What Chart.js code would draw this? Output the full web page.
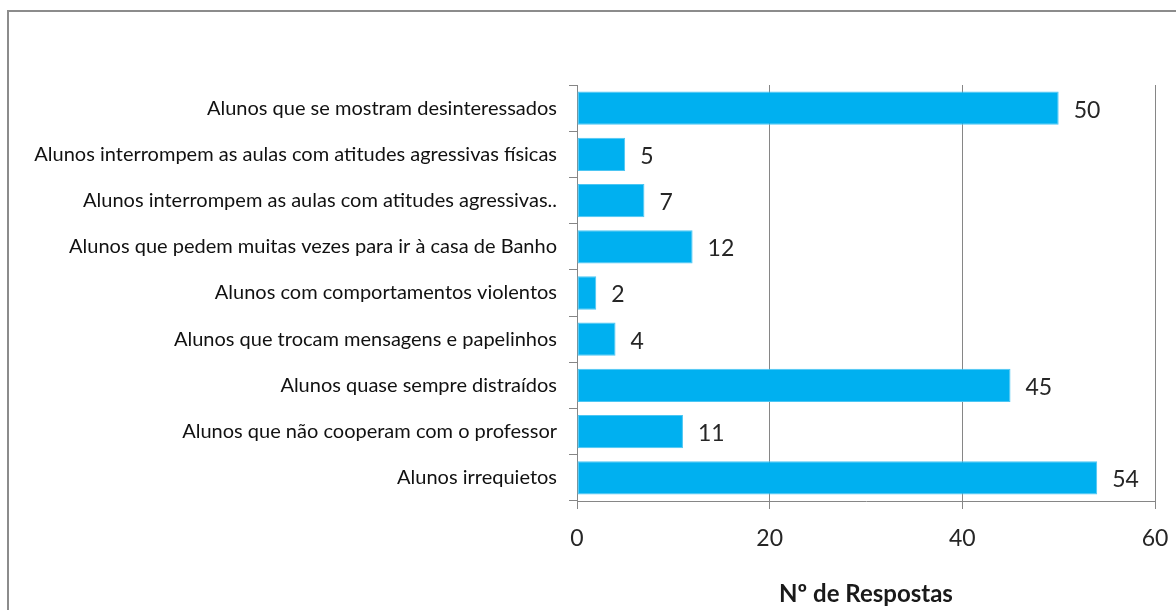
<!DOCTYPE html>
<html>
<head>
<meta charset="utf-8">
<script src="https://cdn.jsdelivr.net/npm/chart.js@4"></script>
<style>
  html, body { margin: 0; padding: 0; background: #fff; }
  #wrap { position: relative; width: 1176px; height: 610px; }
  #frame { position: absolute; left: 7px; top: 10px; right: 0; bottom: 0;
           border-left: 2px solid #8c8c8c; border-top: 2px solid #8c8c8c; pointer-events: none; }
</style>
</head>
<body>
<div id="wrap">
  <canvas id="chart" width="1176" height="610"></canvas>
  <div id="frame"></div>
</div>
<script>
// categories, top to bottom
const categories = [
  "Alunos que se mostram desinteressados",
  "Alunos interrompem as aulas com atitudes agressivas físicas",
  "Alunos interrompem as aulas com atitudes agressivas..",
  "Alunos que pedem muitas vezes para ir à casa de Banho",
  "Alunos com comportamentos violentos",
  "Alunos que trocam mensagens e papelinhos",
  "Alunos quase sempre distraídos",
  "Alunos que não cooperam com o professor",
  "Alunos irrequietos"
];
const respostas = [50, 5, 7, 12, 2, 4, 45, 11, 54];
const xTicks = [0, 20, 40, 60];
const axisTitle = "Nº de Respostas";

const FONT = "Lato";

// value labels drawn just past the end of each bar
const valueLabels = {
  id: "valueLabels",
  afterDatasetsDraw(chart) {
    const ctx = chart.ctx;
    const meta = chart.getDatasetMeta(0);
    ctx.save();
    ctx.font = `23px ${FONT}`;
    ctx.fillStyle = "#262626";
    ctx.textAlign = "left";
    ctx.textBaseline = "middle";
    meta.data.forEach((bar, i) => {
      ctx.fillText(String(respostas[i]), bar.x + 15, bar.y + 2);
    });
    ctx.restore();
  }
};

new Chart(document.getElementById("chart"), {
  type: "bar",
  data: {
    labels: categories,
    datasets: [{
      data: respostas,
      backgroundColor: "#00b0f0",
      borderColor: "#4cc6f3",
      borderWidth: 1,
      borderSkipped: false,
      barPercentage: 0.72,
      categoryPercentage: 1
    }]
  },
  options: {
    indexAxis: "y",
    responsive: false,
    animation: false,
    layout: { padding: { top: 85, right: 21, left: 0, bottom: 0 } },
    plugins: { legend: { display: false }, tooltip: { enabled: false } },
    scales: {
      x: {
        min: xTicks[0],
        max: xTicks[xTicks.length - 1],
        afterBuildTicks: s => { s.ticks = xTicks.map(v => ({ value: v })); },
        ticks: { font: { family: FONT, size: 23 }, color: "#262626", padding: 16, maxRotation: 0 },
        grid: { color: "#868686", lineWidth: 1, tickLength: 8 },
        border: { color: "#868686", width: 1 },
        title: { display: true, text: axisTitle, font: { family: FONT, size: 24, weight: "bold" },
                 color: "#1a1a1a", padding: { top: 0, bottom: 1 } },
        afterFit: s => { s.height = 109; s.paddingLeft = 0; s.paddingRight = 0; }
      },
      y: {
        ticks: { font: { family: FONT, size: 20 }, color: "#111", padding: 12, autoSkip: false },
        grid: { drawOnChartArea: false, color: "#868686", tickLength: 8 },
        border: { color: "#868686", width: 1 },
        afterFit: s => { s.width = 577; s.paddingTop = 0; s.paddingBottom = 0; }
      }
    }
  },
  plugins: [valueLabels]
});
</script>
</body>
</html>
